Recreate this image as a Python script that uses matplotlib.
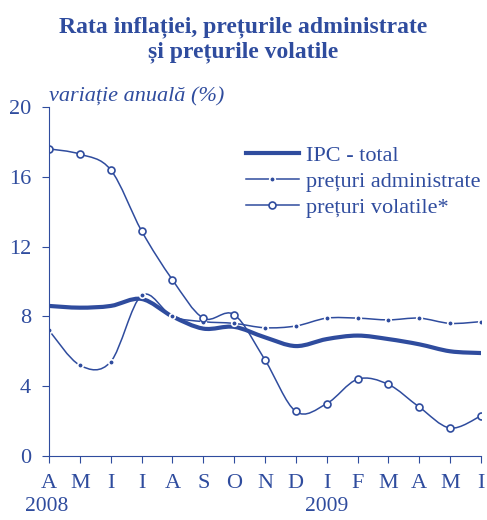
import numpy as np
import matplotlib.pyplot as plt
from matplotlib.path import Path
from matplotlib.patches import PathPatch
from matplotlib.lines import Line2D

months = ["A", "M", "I", "I", "A", "S", "O", "N", "D", "I", "F", "M", "A", "M", "I"]
years = ["2008", "2009"]
ipc_total = [8.6, 8.5, 8.6, 9.0, 8.0, 7.3, 7.4, 6.8, 6.3, 6.7, 6.9, 6.7, 6.4, 6.0, 5.9]
preturi_adm = [7.2, 5.2, 5.4, 9.2, 8.0, 7.7, 7.6, 7.35, 7.45, 7.9, 7.9, 7.8, 7.9, 7.6, 7.7]
preturi_vol = [17.6, 17.3, 16.4, 12.9, 10.1, 7.9, 8.1, 5.5, 2.55, 3.0, 4.4, 4.1, 2.8, 1.6, 2.3]

blue = "#2f4c9e"
plt.rcParams["font.family"] = ["Liberation Serif", "DejaVu Serif"]


def smooth_path(x, y):
    # Excel-like smoothed line: cubic bezier through every point
    x = np.asarray(x, float)
    y = np.asarray(y, float)
    n = len(x)
    verts = [(x[0], y[0])]
    codes = [Path.MOVETO]
    for i in range(n - 1):
        p0 = i - 1 if i > 0 else i
        p3 = i + 2 if i + 2 < n else i + 1
        c1 = (x[i] + (x[i + 1] - x[p0]) / 6, y[i] + (y[i + 1] - y[p0]) / 6)
        c2 = (x[i + 1] - (x[p3] - x[i]) / 6, y[i + 1] - (y[p3] - y[i]) / 6)
        verts += [c1, c2, (x[i + 1], y[i + 1])]
        codes += [Path.CURVE4] * 3
    return Path(verts, codes)


fig = plt.figure(figsize=(4.87, 5.2), dpi=100)
ax = fig.add_axes([0.1006, 0.1231, 0.8871, 0.6711])
xs = np.arange(len(months))

ax.add_patch(PathPatch(smooth_path(xs, ipc_total), fill=False, ec=blue, lw=3.0, capstyle="round"))
ax.add_patch(PathPatch(smooth_path(xs, preturi_adm), fill=False, ec=blue, lw=1.1))
ax.plot(xs, preturi_adm, ls="none", marker="o", ms=4, mfc=blue, mec="white", mew=1.2)
ax.add_patch(PathPatch(smooth_path(xs, preturi_vol), fill=False, ec=blue, lw=1.1))
ax.plot(xs, preturi_vol, ls="none", marker="o", ms=5, mfc="white", mec=blue, mew=1.2)

ax.set_xlim(0, 14)
ax.set_ylim(0, 20)
ax.set_yticks([0, 4, 8, 12, 16, 20])
ax.set_xticks(xs)
ax.set_xticklabels(months)
for s in ["top", "right"]:
    ax.spines[s].set_visible(False)
for s in ["left", "bottom"]:
    ax.spines[s].set_color(blue)
    ax.spines[s].set_linewidth(0.8)
ax.tick_params(axis="both", colors=blue, width=0.8, length=5, labelsize=16)
ax.tick_params(axis="x", pad=8)
ax.tick_params(axis="y", pad=8)

ax.text(-0.005, -0.158, years[0], transform=ax.transAxes, ha="center", va="baseline", fontsize=15.5, color=blue)
ax.text(9, -0.158, years[1], transform=ax.get_xaxis_transform(), ha="center", va="baseline", fontsize=15.5, color=blue)

ax.text(0.0, 20.3, "variație anuală (%)", ha="left", va="baseline",
        fontsize=16, style="italic", color=blue)
fig.text(0.5, 0.968, "Rata inflației, prețurile administrate\nși prețurile volatile", ha="center", va="top",
         fontsize=17, fontweight="bold", color=blue, linespacing=1.2)

handles = [
    Line2D([], [], color=blue, lw=3.0),
    Line2D([], [], color=blue, lw=1.1, marker="o", ms=4, mfc=blue, mec="white", mew=1.2),
    Line2D([], [], color=blue, lw=1.1, marker="o", ms=5, mfc="white", mec=blue, mew=1.2),
]
labels = ["IPC - total", "prețuri administrate", "prețuri volatile*"]
leg = ax.legend(handles, labels, loc="upper left", bbox_to_anchor=(0.455, 0.89), frameon=False,
                fontsize=16, handlelength=2.4, handletextpad=0.3, labelspacing=0.25,
                borderpad=0, borderaxespad=0, numpoints=1)
for t in leg.get_texts():
    t.set_color(blue)

fig.savefig("out.png", dpi=100)
